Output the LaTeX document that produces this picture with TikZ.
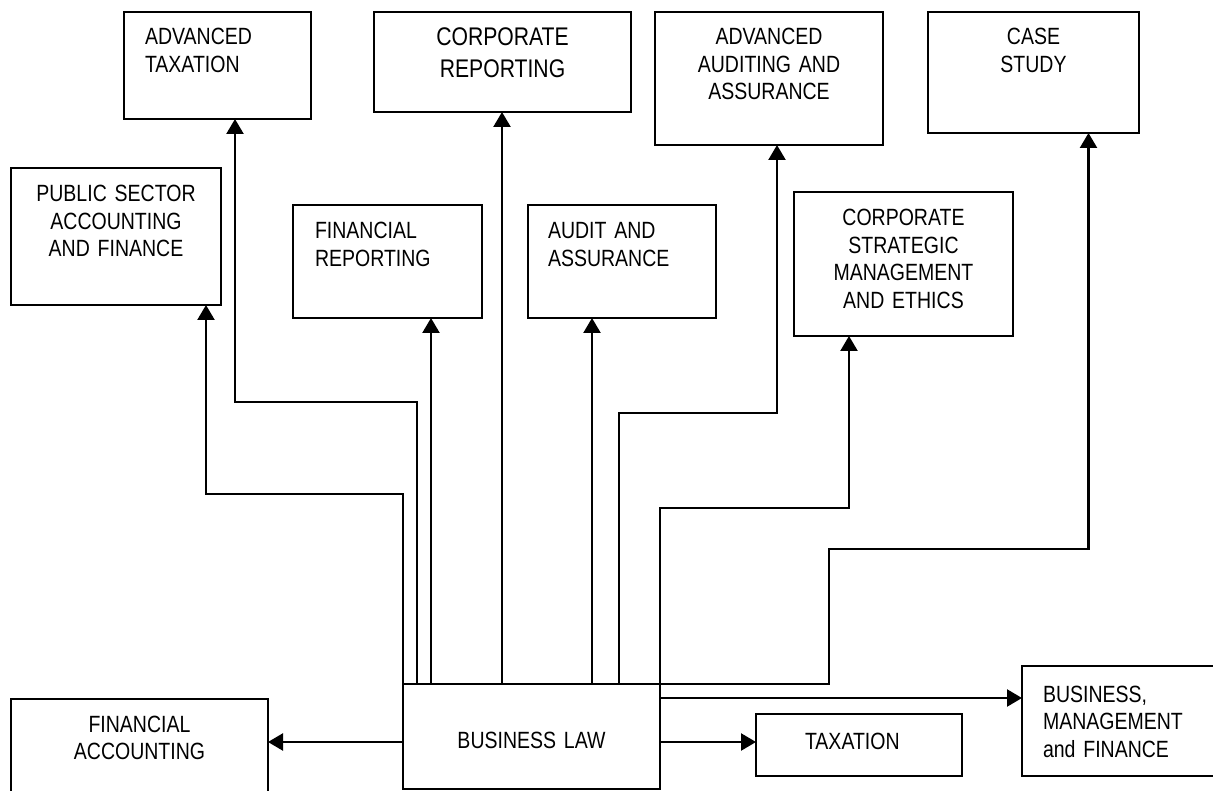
\documentclass[tikz,border=0pt]{standalone}
\usepackage{fontspec}
\setmainfont{Liberation Sans}[FakeStretch=0.83]
\usetikzlibrary{arrows.meta}
\newcommand{\coursefont}{\fontsize{23.5}{27.5}\selectfont}
\newcommand{\bigcoursefont}{\fontsize{25.5}{32}\selectfont}

\begin{document}
\begin{tikzpicture}[x=1pt, y=-1pt, line width=2.4pt, >={Triangle[length=15pt,width=17pt]}]
    \tikzstyle{every node}=[font=\coursefont]
    \tikzstyle{course}=[draw, anchor=north west, outer sep=0pt, inner sep=0pt, align=center]
    \tikzstyle{link}=[->]

    \path[use as bounding box] (0,0) rectangle (1213,791);
    \clip (0,0) rectangle (1213,791);

    % Draw the top row of papers
    \node[course, align=left, inner xsep=21pt, text width=145pt, text height=33pt, text depth=74pt] (AT) at (124,12) {ADVANCED\\TAXATION};
    \node[course, font=\bigcoursefont, text width=257pt, text height=34pt, text depth=66pt] (CR) at (374,12) {CORPORATE\\REPORTING};
    \node[course, text width=228pt, text height=33pt, text depth=100pt] (AAA) at (655,12) {ADVANCED\\AUDITING AND\\ASSURANCE};
    \node[course, text width=211pt, text height=33pt, text depth=88pt] (CS) at (928,12) {CASE\\STUDY};

    % Draw the middle row of papers
    \node[course, text width=210pt, text height=34pt, text depth=103pt] (PS) at (11,168) {PUBLIC SECTOR\\ACCOUNTING\\AND FINANCE};
    \node[course, align=left, inner xsep=22pt, text width=145pt, text height=34pt, text depth=79pt] (FR) at (293,205) {FINANCIAL\\REPORTING};
    \node[course, align=left, inner xsep=20pt, text width=148pt, text height=34pt, text depth=79pt] (AA) at (528,205) {AUDIT AND\\ASSURANCE};
    \node[course, text width=219pt, text height=34pt, text depth=110pt] (CSM) at (794,192) {CORPORATE\\STRATEGIC\\MANAGEMENT\\AND ETHICS};

    % Draw the bottom row of papers
    \node[course, text width=257pt, text height=64pt, text depth=41pt] (BL) at (403,684) {BUSINESS LAW};
    \node[course, text width=257pt, text height=33pt, text depth=77pt] (FA) at (11,699) {FINANCIAL\\ACCOUNTING};
    \node[course, align=left, inner xsep=49pt, text width=108pt, text height=35pt, text depth=27pt] (TX) at (756,714) {TAXATION};
    \node[course, align=left, inner xsep=21pt, text width=170pt, text height=36pt, text depth=74pt] (BMF) at (1022,666) {BUSINESS,\\MANAGEMENT\\and FINANCE};

    % Connect business law with the papers above it
    \draw[link] (BL.north west) -- ++(0,-190) -| ([xshift=-15pt]PS.south east);
    \draw[link] ([xshift=14pt]BL.north west) -- ++(0,-282) -| ([xshift=17.5pt]AT.south);
    \foreach \sx/\dest/\tx in {28/FR/43.5, 99/CR/-0.5, 189/AA/-30}
        \draw[link] ([xshift=\sx pt]BL.north west) -- ([xshift=\tx pt]\dest.south);
    \draw[link] ([xshift=216pt]BL.north west) -- ++(0,-271) -| ([xshift=8pt]AAA.south);
    \draw[link] (BL.north east) -- ++(0,-176) -| ([xshift=-54.5pt]CSM.south);
    \draw[link] (BL.north east) -- ++(169,0) -- ++(0,-135) -| ([xshift=55pt]CS.south);

    % Connect business law with the papers beside it
    \draw[link] ([yshift=-14pt]BL.north east) -- ([yshift=23pt]BMF.west);
    \draw[link] ([yshift=-5.5pt]BL.east) -- ([yshift=3pt]TX.west);
    \draw[link] ([yshift=-5.5pt]BL.west) -- ([yshift=12pt]FA.east);
\end{tikzpicture}
\end{document}
